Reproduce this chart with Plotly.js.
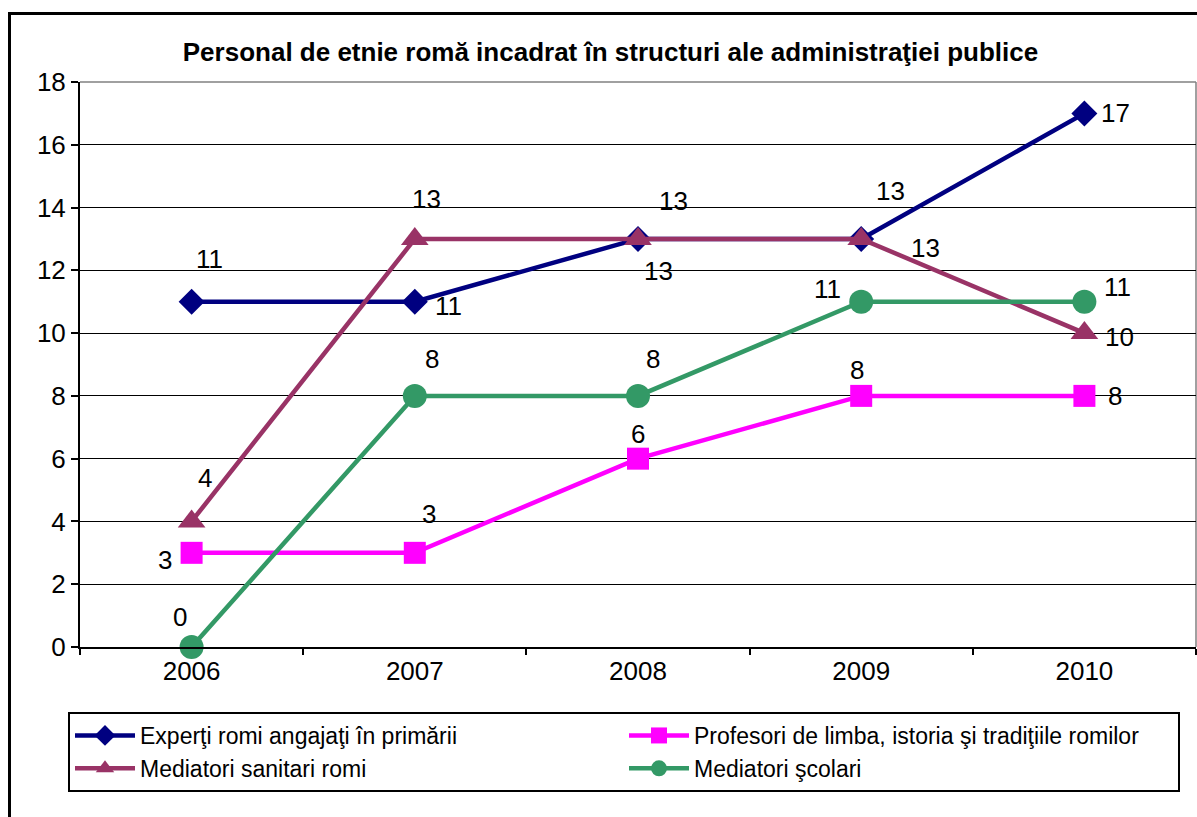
<!DOCTYPE html>
<html><head><meta charset="utf-8">
<script src="https://cdn.plot.ly/plotly-3.0.1.min.js"></script>
<style>html,body{margin:0;padding:0;background:#fff}#chart{width:1197px;height:817px}</style>
</head><body><div id="chart"></div>
<script>
const years = ['2006','2007','2008','2009','2010'];
const seriesNames = ['Experţi romi angajaţi în primării','Profesori de limba, istoria şi tradiţiile romilor','Mediatori sanitari romi','Mediatori şcolari'];
const experti = [11, 11, 13, 13, 17];
const profesori = [3, 3, 6, 8, 8];
const sanitari = [4, 13, 13, 13, 10];
const scolari = [0, 8, 8, 11, 11];
const yTicks = [0,2,4,6,8,10,12,14,16,18];

// styles
const FONT = 'Liberation Sans, Arial, sans-serif';
const colors = ['#000080','#FF00FF','#993366','#339966'];
const symbols = ['diamond','square','triangle-up','circle'];
const msizes = [20,22,24,24];
// label offsets (px) relative to each point
const offs = [
  [[18,-43],[34,4],[35,-38],[29,-48],[31,0]],
  [[-27,7],[14,-39],[0,-25],[-4,-26],[31,0]],
  [[13,-43],[12,-40],[20,32],[64,9],[35,4]],
  [[-12,-30],[17,-37],[15,-37],[-34,-13],[33,-15]]
];
const allSeries = [experti, profesori, sanitari, scolari];

const traces = allSeries.map((vals,i)=>({
  type:'scatter', mode:'lines+markers', name:seriesNames[i],
  x:years, y:vals, cliponaxis:false,
  line:{color:colors[i], width:4.5},
  marker:{symbol:symbols[i], size:msizes[i], color:colors[i]}
}));

const annotations = [];
allSeries.forEach((vals,i)=>{
  vals.forEach((v,j)=>{
    annotations.push({x:j, y:v, xref:'x', yref:'y', text:String(v), showarrow:false,
      xanchor:'center', yanchor:'middle',
      xshift:offs[i][j][0], yshift:-offs[i][j][1],
      font:{family:FONT, size:26, color:'#000'}});
  });
});

const L = 80, R = 1196, T = 82, B = 647;
const pw = R - L, ph = B - T;
const px = v => (v - L)/pw;
const py = v => (B - v)/ph;

const layout = {
  width:1197, height:817,
  margin:{l:L, r:1197-R, t:T, b:817-B, pad:0},
  paper_bgcolor:'#fff', plot_bgcolor:'#fff',
  font:{family:FONT, size:25, color:'#000'},
  title:{text:'<b>Personal de etnie romă incadrat în structuri ale administraţiei publice</b>',
    font:{family:FONT, size:26, color:'#000'},
    x:0.51, xanchor:'center', y:1-52/817, yanchor:'middle'},
  showlegend:true,
  legend:{orientation:'h', x:px(68), xanchor:'left', y:py(712), yanchor:'top',
    bgcolor:'#fff', bordercolor:'#000', borderwidth:2,
    itemwidth:60, entrywidth:479, entrywidthmode:'pixels', traceorder:'normal',
    font:{family:FONT, size:23, color:'#000'}},
  xaxis:{type:'category', categoryorder:'array', categoryarray:years,
    range:[-0.5,4.5], showgrid:false, zeroline:false,
    showline:true, linecolor:'#000', linewidth:2,
    ticks:'outside', tickson:'boundaries', ticklen:6, tickwidth:2, tickcolor:'#000',
    tickfont:{size:26}, fixedrange:true},
  yaxis:{range:[0,18], tickvals:yTicks, ticktext:yTicks.map(String),
    showgrid:true, gridcolor:'#000', gridwidth:1, zeroline:false,
    showline:true, linecolor:'#000', linewidth:2,
    ticks:'outside', ticklen:7, tickwidth:2, tickcolor:'#000',
    tickfont:{size:26}, fixedrange:true},
  shapes:[
    {type:'line', xref:'paper', yref:'paper', x0:0, x1:1, y0:1, y1:1, line:{color:'#808080', width:1.5}, layer:'below'},
    {type:'line', xref:'paper', yref:'paper', x0:1, x1:1, y0:0, y1:1, line:{color:'#808080', width:1.5}, layer:'below'},
    {type:'rect', xref:'paper', yref:'paper', x0:px(9.5), x1:px(1215), y0:py(13.5), y1:py(900), line:{color:'#000', width:3}, fillcolor:'rgba(0,0,0,0)'}
  ],
  annotations:annotations
};
Plotly.newPlot('chart', traces, layout, {displayModeBar:false});
</script></body></html>
